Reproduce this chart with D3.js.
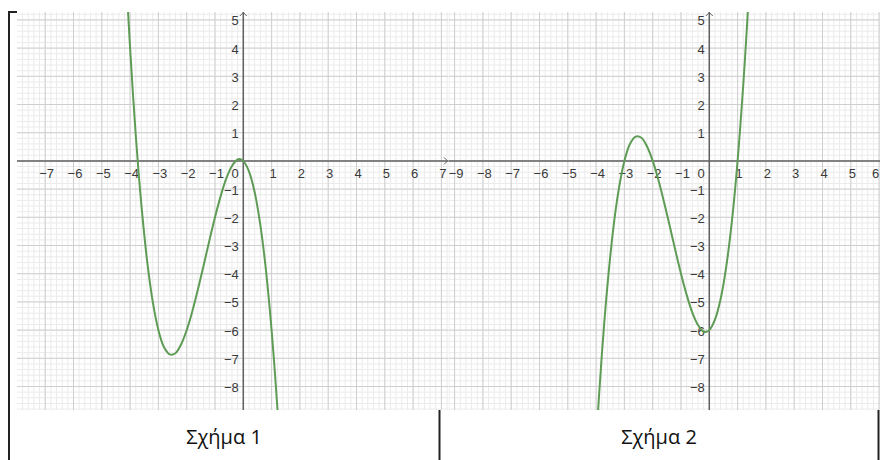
<!DOCTYPE html>
<html>

<head>
  <script src="https://d3js.org/d3.v7.min.js"></script>
  <title>Σχήμα 1 - Σχήμα 2</title>
  <style>
    body {
      margin: 0;
      background: #ffffff;
    }

    .tick-label {
      font-family: 'Liberation Sans', Arial, sans-serif;
      font-size: 13px;
      fill: #3a3a3a;
    }

    .caption {
      font-family: 'Open Sans', 'Noto Sans', sans-serif;
      font-size: 20px;
      fill: #111;
    }

    .curve {
      fill: none;
    }
  </style>
</head>

<body>

  <div id="chart"></div>

  <script>
    // points (x, y in graph units)
    var fig1X = [-4.1, -4.0, -3.9, -3.8, -3.7, -3.6, -3.4, -3.2, -3.0, -2.8, -2.6, -2.4, -2.2, -2.0, -1.8, -1.6, -1.4, -1.2, -1.0, -0.8, -0.6, -0.4, -0.2, -0.1, 0, 0.2, 0.4, 0.6, 0.8, 1.0, 1.2, 1.3];
    var fig1Y = [5.78, 4.0, 2.38, 0.91, -0.41, -1.58, -3.54, -4.99, -6.0, -6.61, -6.86, -6.82, -6.51, -6.0, -5.33, -4.54, -3.7, -2.83, -2.0, -1.25, -0.62, -0.18, 0.05, 0.06, 0, -0.37, -1.1, -2.26, -3.87, -6.0, -8.69, -10.26];

    var fig2X = [-4.0, -3.9, -3.8, -3.7, -3.6, -3.4, -3.2, -3.0, -2.8, -2.6, -2.4, -2.2, -2.0, -1.8, -1.6, -1.4, -1.2, -1.0, -0.8, -0.6, -0.4, -0.2, -0.1, 0, 0.2, 0.4, 0.6, 0.8, 1.0, 1.2, 1.3, 1.4];
    var fig2Y = [-10, -8.38, -6.91, -5.59, -4.42, -2.46, -1.01, 0, 0.61, 0.86, 0.82, 0.51, 0, -0.67, -1.46, -2.3, -3.17, -4, -4.75, -5.38, -5.82, -6.05, -6.06, -6, -5.63, -4.9, -3.74, -2.13, 0, 2.69, 4.26, 5.98];

    var fig1XTicks = [-7, -6, -5, -4, -3, -2, -1, 1, 2, 3, 4, 5, 6, 7];
    var fig2XTicks = [-9, -8, -7, -6, -5, -4, -3, -2, -1, 1, 2, 3, 4, 5, 6];
    var yTicks = [5, 4, 3, 2, 1, -1, -2, -3, -4, -5, -6, -7, -8];

    var captions = ["Σχήμα 1", "Σχήμα 2"];

    var width = 880;
    var height = 460;
    var plotTop = 12;
    var plotBottom = 410;
    var unit = 28.3;
    var yUnit = 28.2;
    var yOrigin = 160.9;

    var svg = d3.select("#chart").append("svg")
      .attr("width", width)
      .attr("height", height);

    var y = d3.scaleLinear()
      .domain([-(plotBottom - yOrigin) / yUnit, (yOrigin - plotTop) / yUnit])
      .range([plotBottom, plotTop]);

    var panels = [
      { id: "p1", left: 17, right: 448.5, origin: 243.3, xs: fig1X, ys: fig1Y, ticks: fig1XTicks },
      { id: "p2", left: 448.5, right: 880, origin: 709.3, xs: fig2X, ys: fig2Y, ticks: fig2XTicks }
    ];

    function fmt(d) {
      return d < 0 ? "\u2212" + Math.abs(d) : String(d);
    }

    panels.forEach(function (p) {
      var x = d3.scaleLinear()
        .domain([(p.left - p.origin) / unit, (p.right - p.origin) / unit])
        .range([p.left, p.right]);

      var g = svg.append("g").attr("class", "panel");

      g.append("clipPath")
        .attr("id", "clip-" + p.id)
        .append("rect")
        .attr("x", p.left)
        .attr("y", plotTop)
        .attr("width", p.right - p.left)
        .attr("height", plotBottom - plotTop);

      var grid = g.append("g").attr("clip-path", "url(#clip-" + p.id + ")");

      var xd = x.domain(), yd = y.domain();

      // minor grid, every 0.2
      var minorX = d3.range(Math.ceil(xd[0] * 5), Math.floor(xd[1] * 5) + 1).map(function (i) { return i / 5; });
      var minorY = d3.range(Math.ceil(yd[0] * 5), Math.floor(yd[1] * 5) + 1).map(function (i) { return i / 5; });

      grid.selectAll(".minor-x").data(minorX).enter().append("line")
        .attr("x1", function (d) { return x(d); })
        .attr("x2", function (d) { return x(d); })
        .attr("y1", plotTop).attr("y2", plotBottom)
        .style("stroke", "#ebebeb").style("stroke-width", 1);

      grid.selectAll(".minor-y").data(minorY).enter().append("line")
        .attr("y1", function (d) { return y(d); })
        .attr("y2", function (d) { return y(d); })
        .attr("x1", p.left).attr("x2", p.right)
        .style("stroke", "#ebebeb").style("stroke-width", 1);

      var majorX = d3.range(Math.ceil(xd[0]), Math.floor(xd[1]) + 1);
      var majorY = d3.range(Math.ceil(yd[0]), Math.floor(yd[1]) + 1);

      grid.selectAll(".major-x").data(majorX).enter().append("line")
        .attr("x1", function (d) { return x(d); })
        .attr("x2", function (d) { return x(d); })
        .attr("y1", plotTop).attr("y2", plotBottom)
        .style("stroke", "#cfcfcf").style("stroke-width", 1);

      grid.selectAll(".major-y").data(majorY).enter().append("line")
        .attr("y1", function (d) { return y(d); })
        .attr("y2", function (d) { return y(d); })
        .attr("x1", p.left).attr("x2", p.right)
        .style("stroke", "#cfcfcf").style("stroke-width", 1);

      // axes
      g.append("line")
        .attr("x1", p.left).attr("x2", p.right)
        .attr("y1", y(0)).attr("y2", y(0))
        .style("stroke", "#626262").style("stroke-width", 1.5);

      g.append("line")
        .attr("x1", x(0)).attr("x2", x(0))
        .attr("y1", plotTop).attr("y2", plotBottom)
        .style("stroke", "#626262").style("stroke-width", 1.5);

      // open arrow heads
      g.append("path")
        .attr("d", "M" + (x(0) - 3.5) + "," + (plotTop + 4) + "L" + x(0) + "," + (plotTop + 0.5) + "L" + (x(0) + 3.5) + "," + (plotTop + 4))
        .style("fill", "none").style("stroke", "#626262").style("stroke-width", 1);

      if (p.right < width) {
        g.append("path")
          .attr("d", "M" + (p.right - 4.5) + "," + (y(0) - 3.5) + "L" + (p.right - 1) + "," + y(0) + "L" + (p.right - 4.5) + "," + (y(0) + 3.5))
          .style("fill", "none").style("stroke", "#626262").style("stroke-width", 1);
      }

      // tick labels
      g.selectAll(".xl").data(p.ticks).enter().append("text")
        .attr("class", "tick-label")
        .attr("x", function (d) { return Math.min(x(d) + 1.5, width - 4.5); })
        .attr("y", y(0) + 17.5)
        .attr("text-anchor", "middle")
        .text(fmt);

      g.selectAll(".yl").data(yTicks).enter().append("text")
        .attr("class", "tick-label")
        .attr("x", x(0) - 4.5)
        .attr("y", function (d) { return y(d) + 5.5; })
        .attr("text-anchor", "end")
        .text(fmt);

      g.append("text")
        .attr("class", "tick-label")
        .attr("x", x(0) - 4.5)
        .attr("y", y(0) + 17.5)
        .attr("text-anchor", "end")
        .text("0");

      // the graph
      var pts = p.xs.map(function (v, i) { return [v, p.ys[i]]; });

      var line = d3.line()
        .x(function (d) { return x(d[0]); })
        .y(function (d) { return y(d[1]); })
        .curve(d3.curveCatmullRom.alpha(0.5));

      g.append("path")
        .attr("class", "curve")
        .attr("clip-path", "url(#clip-" + p.id + ")")
        .attr("d", line(pts))
        .style("stroke", "#5e9c55")
        .style("stroke-width", 2);
    });

    // table frame
    var frame = svg.append("g")
      .style("stroke", "#222")
      .style("stroke-width", 2)
      .style("fill", "none");

    frame.append("path").attr("d", "M17,12H9V460");
    frame.append("line").attr("x1", 439.5).attr("x2", 439.5).attr("y1", 410).attr("y2", 460);
    frame.append("line").attr("x1", 878.5).attr("x2", 878.5).attr("y1", 410).attr("y2", 460);

    svg.selectAll(".caption").data(captions).enter().append("text")
      .attr("class", "caption")
      .attr("x", function (d, i) { return i == 0 ? 224 : 659; })
      .attr("y", 444)
      .attr("text-anchor", "middle")
      .text(function (d) { return d; });
  </script>
</body>

</html>
